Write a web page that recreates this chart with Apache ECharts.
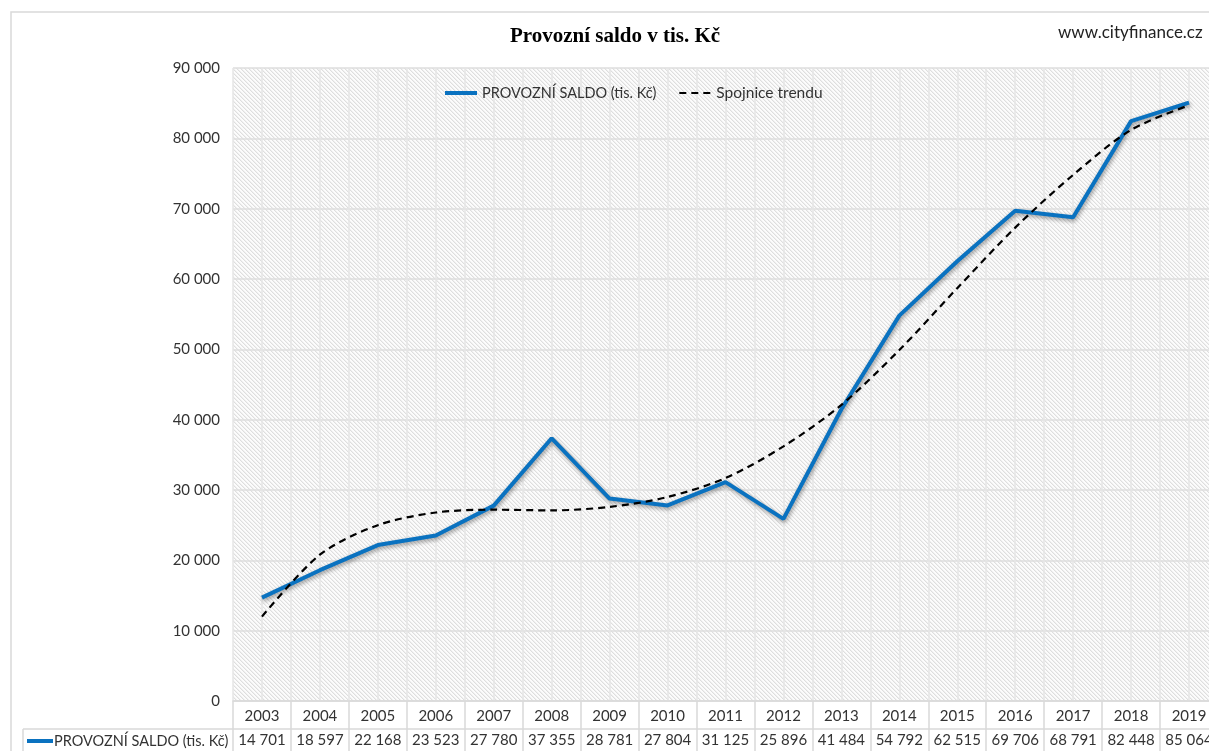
<!DOCTYPE html>
<html>
<head>
<meta charset="utf-8">
<script src="https://cdn.jsdelivr.net/npm/echarts@6/dist/echarts.min.js"></script>
<style>
html,body{margin:0;padding:0;background:#fff;overflow:hidden;width:1209px;height:751px;}
#chart{width:1240px;height:751px;}
</style>
</head>
<body>
<div id="chart"></div>
<script>
const years = ['2003','2004','2005','2006','2007','2008','2009','2010','2011','2012','2013','2014','2015','2016','2017','2018','2019'];
const saldo = [14701,18597,22168,23523,27780,37355,28781,27804,31125,25896,41484,54792,62515,69706,68791,82448,85064];
const trend = [12000,20800,25000,26800,27200,27100,27600,29000,31700,36200,42100,49900,58700,67300,74800,81200,84700];
const yTicks = {min:0, max:90000, interval:10000};
const seriesName = 'PROVOZNÍ SALDO (tis. Kč)';
const trendName = 'Spojnice trendu';

function fmt(n){ return String(n).replace(/\B(?=(\d{3})+(?!\d))/g,' '); }

// hatch pattern
const pc = document.createElement('canvas');
pc.width = 8; pc.height = 8;
const pctx = pc.getContext('2d');
const img = pctx.createImageData(8,8);
for (let y=0;y<8;y++) for (let x=0;x<8;x++){
  const i=(y*8+x)*4;
  const d = ((x - y) % 4 + 4) % 4;
  const c = d === 0 ? 222 : (d === 1 ? 240 : 252);
  img.data[i]=c; img.data[i+1]=c; img.data[i+2]=c; img.data[i+3]=255;
}
pctx.putImageData(img,0,0);

const font = 'Lato, "Liberation Sans", sans-serif';
const chart = echarts.init(document.getElementById('chart'), null, {renderer:'canvas'});
chart.setOption({
  backgroundColor:'#fff',
  animation:false,
  title:{
    text:'Provozní saldo v tis. Kč', left:505, top:21,
    textStyle:{fontFamily:'"Liberation Serif", serif', fontWeight:'bold', fontSize:21, color:'#000'}
  },
  legend:{
    left:438, top:80, itemWidth:32, itemHeight:14, itemGap:22,
    itemStyle:{opacity:0},
    textStyle:{fontFamily:font, fontSize:14.5, color:'#333'},
    data:[
      {name:seriesName, lineStyle:{width:4}},
      {name:trendName, lineStyle:{width:2}, textStyle:{fontSize:15.5}}
    ]
  },
  grid:{
    left:233, top:68, width:985, height:634, show:true,
    backgroundColor:{image:pc, repeat:'repeat'}, borderWidth:0
  },
  xAxis:[{
    type:'category', data:years, boundaryGap:true,
    axisLine:{show:true, lineStyle:{color:'#d9d9d9', width:1.5}},
    axisTick:{show:true, length:55, alignWithLabel:false, lineStyle:{color:'#d9d9d9', width:1.5}},
    splitLine:{show:false},
    axisLabel:{
      interval:0, margin:3,
      formatter:(v,i)=>'{y|'+v+'}\n{v|'+fmt(saldo[i])+'}',
      rich:{
        y:{fontFamily:font, fontSize:15, color:'#333', lineHeight:25, height:25},
        v:{fontFamily:font, fontSize:15, color:'#333', lineHeight:22, height:22}
      }
    }
  },{
    type:'value', min:-0.5, max:16.5, interval:0.5, position:'bottom',
    axisLine:{show:false}, axisTick:{show:false}, axisLabel:{show:false},
    splitLine:{show:true, lineStyle:{color:'#e6e6e6', width:1.5}}
  }],
  yAxis:{
    type:'value', min:yTicks.min, max:yTicks.max, interval:yTicks.interval,
    axisLine:{show:false}, axisTick:{show:false},
    axisLabel:{margin:13, formatter:v=>fmt(v), fontFamily:font, fontSize:15, color:'#333'},
    splitLine:{show:true, lineStyle:{color:'#dedede', width:1.5}}
  },
  series:[{
    name:seriesName, type:'line', data:saldo, xAxisIndex:0,
    showSymbol:false, symbol:'none', z:3,
    lineStyle:{color:'#0a72c0', width:4, shadowColor:'rgba(0,0,0,0.4)', shadowBlur:4, shadowOffsetX:1, shadowOffsetY:2},
    itemStyle:{color:'#0a72c0'}
  },{
    name:trendName, type:'line', data:trend, xAxisIndex:0, smooth:0.3,
    showSymbol:false, symbol:'none', z:4,
    lineStyle:{color:'#000', width:2.2, type:[7,5]},
    itemStyle:{color:'#000'}
  }],
  graphic:[
    {type:'rect', shape:{x:11, y:12, width:1300, height:800}, style:{fill:null, stroke:'#d9d9d9', lineWidth:1.5}, silent:true, z:-10},
    {type:'line', shape:{x1:23, y1:729, x2:1240, y2:729}, style:{stroke:'#d9d9d9', lineWidth:1.5}, silent:true},
    {type:'line', shape:{x1:23, y1:729, x2:23, y2:760}, style:{stroke:'#d9d9d9', lineWidth:1.5}, silent:true},
    {type:'line', shape:{x1:27, y1:741, x2:53, y2:741}, style:{stroke:'#0a72c0', lineWidth:4}, silent:true},
    {type:'text', x:54, y:741, style:{text:seriesName, fontFamily:font, fontSize:14.5, fill:'#333', verticalAlign:'middle'}, silent:true},
    {type:'text', x:1058, y:33, style:{text:'www.cityfinance.cz', fontFamily:font, fontSize:17, fill:'#222', verticalAlign:'middle'}, silent:true}
  ]
});
</script>
</body>
</html>
